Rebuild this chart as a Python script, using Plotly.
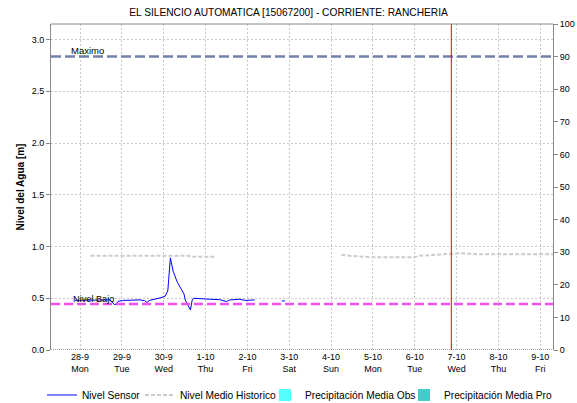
import plotly.graph_objects as go

title = "EL SILENCIO AUTOMATICA [15067200] - CORRIENTE: RANCHERIA"

sensor_time = [
    "2020-09-27 21:00", "2020-09-28 05:40", "2020-09-28 11:30", "2020-09-28 17:10",
    "2020-09-28 20:00", "2020-09-28 21:50", "2020-09-29 00:30", "2020-09-29 04:40",
    "2020-09-29 10:20", "2020-09-29 13:00", "2020-09-29 14:20", "2020-09-29 16:00",
    "2020-09-29 19:00", "2020-09-29 21:50", "2020-09-30 00:40", "2020-09-30 02:20",
    "2020-09-30 03:50", "2020-09-30 05:20", "2020-09-30 07:40", "2020-09-30 10:20",
    "2020-09-30 11:40", "2020-09-30 12:20", "2020-09-30 14:10", "2020-09-30 15:20",
    "2020-09-30 16:20", "2020-09-30 17:20", "2020-10-01 02:30", "2020-10-01 08:00",
    "2020-10-01 12:00", "2020-10-01 14:00", "2020-10-01 19:40", "2020-10-01 23:00",
    "2020-10-02 04:10", "2020-10-02 12:00",
    "2020-10-02 19:40", "2020-10-02 21:30",
]
sensor_val = [
    0.48, 0.48, 0.48, 0.484,
    0.435, 0.47, 0.479, 0.484,
    0.484, 0.477, 0.46, 0.48,
    0.49, 0.503, 0.518, 0.57,
    0.89, 0.765, 0.66, 0.58,
    0.54, 0.484, 0.416, 0.387,
    0.484, 0.50, 0.49, 0.487,
    0.468, 0.484, 0.49, 0.479,
    0.484, None,
    0.474, 0.474,
]

hist_time = [
    "2020-09-28 06:00", "2020-09-29 00:00", "2020-09-30 00:00", "2020-09-30 14:00",
    "2020-09-30 16:00", "2020-10-01 05:00", "2020-10-02 12:00",
    "2020-10-04 06:00", "2020-10-04 10:40", "2020-10-04 23:00", "2020-10-05 23:50",
    "2020-10-06 02:40", "2020-10-06 14:00", "2020-10-07 01:40", "2020-10-07 12:00",
    "2020-10-09 07:20",
]
hist_val = [
    0.91, 0.91, 0.91, 0.91,
    0.90, 0.90, None,
    0.92, 0.91, 0.897, 0.897,
    0.91, 0.92, 0.935, 0.926,
    0.926,
]

# no precipitation recorded in this period (zero-height placeholders)
precip_obs_time = ["2020-10-03"]
precip_obs_val = [0]
precip_pro_time = ["2020-10-03"]
precip_pro_val = [0]

nivel_maximo = 2.835
nivel_bajo = 0.445
ahora = "2020-10-06 21:00"

x_range = ["2020-09-27 07:20", "2020-10-09 07:20"]
y_range = [0, 3.15]
y2_range = [0, 100]

tick_dates = ["2020-09-28", "2020-09-29", "2020-09-30", "2020-10-01", "2020-10-02",
              "2020-10-03", "2020-10-04", "2020-10-05", "2020-10-06", "2020-10-07",
              "2020-10-08", "2020-10-09"]
tick_day = ["28-9", "29-9", "30-9", "1-10", "2-10", "3-10", "4-10", "5-10", "6-10",
            "7-10", "8-10", "9-10"]
tick_wd = ["Mon", "Tue", "Wed", "Thu", "Fri", "Sat", "Sun", "Mon", "Tue", "Wed", "Thu", "Fri"]
y_ticks = [0.0, 0.5, 1.0, 1.5, 2.0, 2.5, 3.0]
y2_ticks = [0, 10, 20, 30, 40, 50, 60, 70, 80, 90, 100]

FONT = "Liberation Sans, Arial, sans-serif"
GRID = "#c8c8c8"
W, H = 577, 403

fig = go.Figure()

fig.add_trace(go.Scatter(
    x=sensor_time, y=sensor_val, mode="lines", name="Nivel Sensor",
    line=dict(color="#0000ff", width=1), connectgaps=False, legend="legend",
))
fig.add_trace(go.Scatter(
    x=hist_time, y=hist_val, mode="lines", name="Nivel Medio Historico",
    line=dict(color="#cccccc", width=2, dash="4px,2px"), connectgaps=False,
    legend="legend2",
))
fig.add_trace(go.Bar(
    x=precip_obs_time, y=precip_obs_val, name="Precipitación Media Obs",
    marker=dict(color="#55ffff", line=dict(width=0)), yaxis="y2", legend="legend3",
))
fig.add_trace(go.Bar(
    x=precip_pro_time, y=precip_pro_val, name="Precipitación Media Pro",
    marker=dict(color="#44cccc", line=dict(width=0)), yaxis="y2", legend="legend4",
))

shapes = [
    dict(type="line", xref="paper", x0=0, x1=1, yref="y", y0=nivel_maximo, y1=nivel_maximo,
         line=dict(color="#7080a8", width=2.5, dash="10px,4px"), layer="above"),
    dict(type="line", xref="paper", x0=0, x1=1, yref="y", y0=nivel_bajo, y1=nivel_bajo,
         line=dict(color="#f050f0", width=2.5, dash="9px,4px"), layer="above"),
    dict(type="line", xref="x", x0=ahora, x1=ahora, yref="paper", y0=0, y1=1,
         line=dict(color="#ff0000", width=1), layer="above"),
    dict(type="line", xref="paper", x0=0, x1=1, yref="y", y0=0, y1=0,
         line=dict(color="#444444", width=1, dash="1px,1px"), layer="above"),
    dict(type="line", xref="paper", x0=0, x1=1, yref="paper", y0=1, y1=1,
         line=dict(color="#888888", width=1)),
]

annotations = [
    dict(text="Maximo", xref="x", x=x_range[0], yref="y", y=nivel_maximo,
         xanchor="left", yanchor="bottom", xshift=18, yshift=-1, showarrow=False,
         font=dict(family=FONT, size=9.5, color="#000000")),
    dict(text="Nivel Bajo", xref="x", x=x_range[0], yref="y", y=nivel_bajo,
         xanchor="left", yanchor="bottom", xshift=20, yshift=-2, showarrow=False,
         font=dict(family=FONT, size=9.2, color="#000000")),
]


def leg(text_left):
    # plotly places entry text 40px right of the legend's left edge
    return dict(orientation="h", xref="container", x=(text_left - 40) / W, xanchor="left",
                yref="container", y=1 - 395 / H, yanchor="middle",
                font=dict(family=FONT, size=10.2), itemwidth=30,
                bgcolor="rgba(0,0,0,0)", borderwidth=0)


fig.update_layout(
    width=W, height=H,
    margin=dict(l=51, r=24, t=24, b=53, autoexpand=False),
    paper_bgcolor="#ffffff", plot_bgcolor="#ffffff",
    font=dict(family=FONT, size=9, color="#000000"),
    title=dict(text=title, x=0.5, xanchor="center", yref="container", y=1 - 12 / H,
               yanchor="middle", font=dict(family=FONT, size=10.2, color="#000000")),
    showlegend=True,
    legend=leg(82), legend2=leg(180), legend3=leg(305), legend4=leg(444),
    shapes=shapes, annotations=annotations,
    bargap=0,
    xaxis=dict(
        type="date", range=x_range, tickvals=tick_dates,
        ticktext=[f"{d}<br>{w}" for d, w in zip(tick_day, tick_wd)],
        showgrid=True, gridcolor=GRID, griddash="2px,2px", gridwidth=1,
        showline=False, ticks="", zeroline=False, automargin=False,
        tickfont=dict(family=FONT, size=9),
    ),
    yaxis=dict(
        range=y_range, tickvals=y_ticks, ticktext=[f"{v:.1f}" for v in y_ticks],
        showgrid=True, gridcolor=GRID, griddash="2px,2px", gridwidth=1,
        showline=True, linecolor="#888888", linewidth=1, mirror=False,
        ticks="outside", ticklen=4, tickcolor="#888888", zeroline=False, automargin=False,
        title=dict(text="<b>Nivel del Agua [m]</b>", font=dict(family=FONT, size=10), standoff=5),
        tickfont=dict(family=FONT, size=9),
    ),
    yaxis2=dict(
        range=y2_range, tickvals=y2_ticks, overlaying="y", side="right",
        showgrid=False, showline=True, linecolor="#888888", linewidth=1,
        ticks="outside", ticklen=4, tickcolor="#888888", zeroline=False, automargin=False,
        tickfont=dict(family=FONT, size=9),
    ),
)

fig.write_html("out.html", config={"displayModeBar": False},
               post_script="document.body.style.margin='0px';")
